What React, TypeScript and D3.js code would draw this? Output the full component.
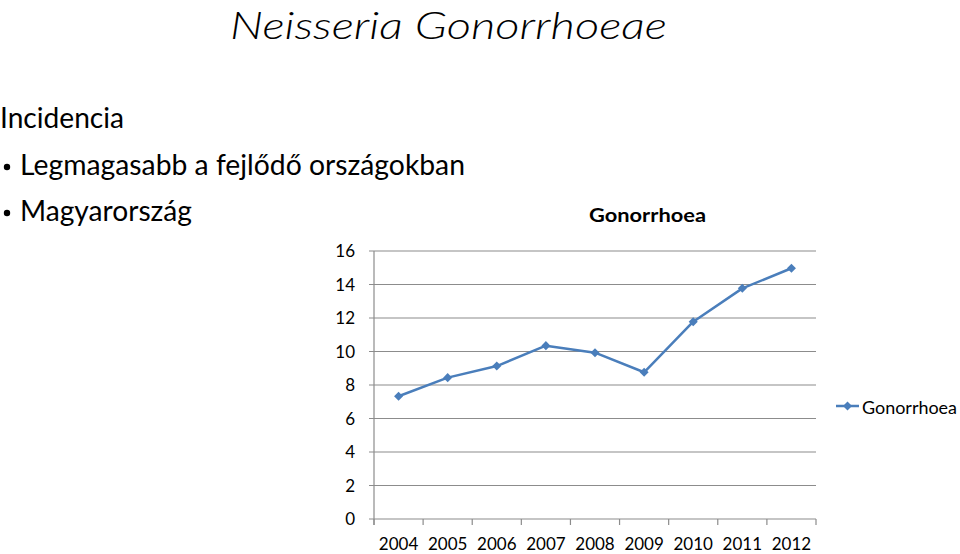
import React from "react";
import * as d3 from "d3";

const years = ["2004", "2005", "2006", "2007", "2008", "2009", "2010", "2011", "2012"];
const gonorrhoea = [7.33, 8.44, 9.13, 10.35, 9.93, 8.76, 11.78, 13.77, 14.97];
const yTicks = [0, 2, 4, 6, 8, 10, 12, 14, 16];

const titleText = "Neisseria Gonorrhoeae";
const headingText = "Incidencia";
const bullets = ["Legmagasabb a fejlődő országokban", "Magyarország"];
const chartTitle = "Gonorrhoea";
const seriesName = "Gonorrhoea";

const W = 960;
const H = 554;
const FONT = "Lato, 'Open Sans', 'Liberation Sans', sans-serif";
const LINE = "#4a7ebb";
const GRID = "#8c8c8c";

export default function App() {
  const x = d3.scaleBand<string>().domain(years).range([374, 816]).padding(0);
  const y = d3.scaleLinear().domain([0, 16]).range([519, 251]);
  const cx = (yr: string) => (x(yr) as number) + x.bandwidth() / 2;

  const line = d3
    .line<number>()
    .x((_, i) => cx(years[i]))
    .y((d) => y(d));

  const diamond = d3.symbol().type(d3.symbolDiamond2).size(52)() as string;

  const bulletY = [175, 221];
  const bulletWidths = [445, 172];

  return (
    <svg
      width={W}
      height={H}
      style={{ position: "absolute", left: 0, top: 0, background: "#fff" }}
      fontFamily={FONT}
    >
      <rect x={0} y={0} width={W} height={H} fill="#fff" />
      {/* Slide title */}
      <text
        x={230}
        y={39}
        fontSize={38}
        fontStyle="italic"
        fontWeight={300}
        fill="#000"
        textLength={437}
        lengthAdjust="spacingAndGlyphs"
      >
        {titleText}
      </text>
      {/* Heading */}
      <text x={0} y={128} fontSize={28} fill="#000" textLength={124} lengthAdjust="spacingAndGlyphs">
        {headingText}
      </text>
      {bullets.map((b, i) => (
        <g key={b}>
          <circle cx={7} cy={bulletY[i] - 8} r={3.2} fill="#000" />
          <text
            x={20}
            y={bulletY[i]}
            fontSize={28}
            fill="#000"
            textLength={bulletWidths[i]}
            lengthAdjust="spacingAndGlyphs"
          >
            {b}
          </text>
        </g>
      ))}

      {/* Chart title */}
      <text
        x={647.5}
        y={222}
        fontSize={19.5}
        fontWeight={700}
        textAnchor="middle"
        fill="#000"
        textLength={117}
        lengthAdjust="spacingAndGlyphs"
      >
        {chartTitle}
      </text>

      {/* Gridlines + y ticks */}
      {yTicks.map((t) => (
        <g key={t}>
          <line x1={369} x2={816} y1={y(t)} y2={y(t)} stroke={GRID} strokeWidth={1.2} />
          <text x={355} y={y(t) + 6} fontSize={17} textAnchor="end" fill="#000">
            {t}
          </text>
        </g>
      ))}
      {/* y axis line */}
      <line x1={374} x2={374} y1={y(16)} y2={525} stroke={GRID} strokeWidth={1.2} />
      {/* x ticks */}
      {years.concat(["end"]).map((yr, i) => {
        const xx = i < years.length ? (x(yr) as number) : 816;
        return <line key={yr} x1={xx} x2={xx} y1={y(0)} y2={525} stroke={GRID} strokeWidth={1.2} />;
      })}
      {years.map((yr) => (
        <text key={yr} x={cx(yr)} y={550} fontSize={17} textAnchor="middle" fill="#000">
          {yr}
        </text>
      ))}

      {/* Series */}
      <path d={line(gonorrhoea) as string} fill="none" stroke={LINE} strokeWidth={2.5} strokeLinejoin="round" />
      {gonorrhoea.map((v, i) => (
        <path key={years[i]} d={diamond} transform={`translate(${cx(years[i])},${y(v)})`} fill={LINE} />
      ))}

      {/* Legend */}
      <line x1={836} x2={859} y1={406} y2={406} stroke={LINE} strokeWidth={2.5} />
      <path d={diamond} transform="translate(847.5,406)" fill={LINE} />
      <text x={862} y={414} fontSize={17} fill="#000" textLength={95} lengthAdjust="spacingAndGlyphs">
        {seriesName}
      </text>
    </svg>
  );
}
